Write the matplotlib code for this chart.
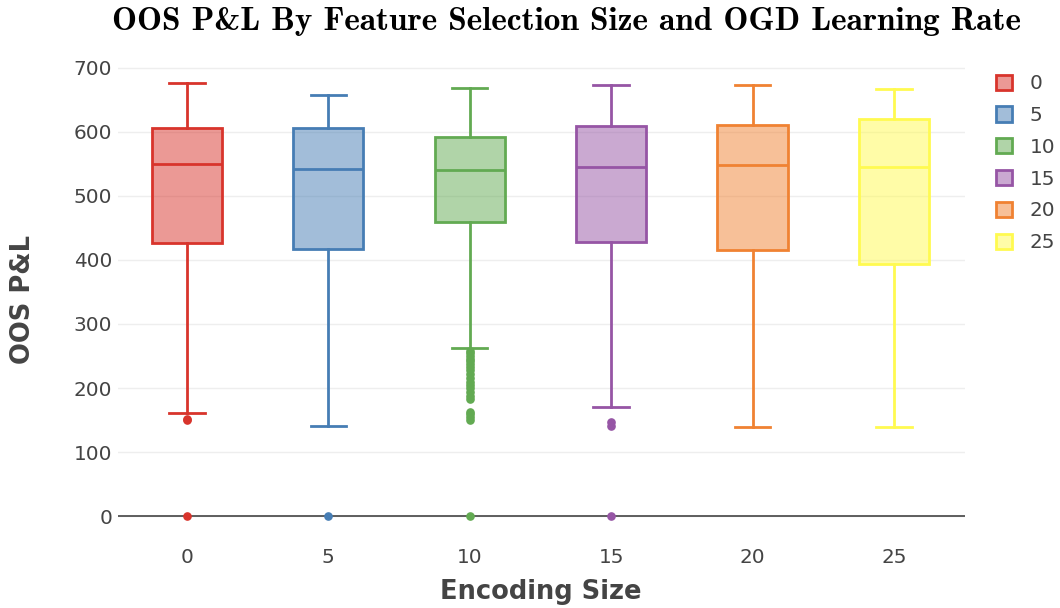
import matplotlib
matplotlib.use("Agg")
import matplotlib.pyplot as plt
from matplotlib.patches import Patch

# Encoding sizes and box statistics of out-of-sample P&L
sizes = [0, 5, 10, 15, 20, 25]
q1 = [427, 417, 460, 428, 416, 394]
median = [550, 542, 540, 546, 548, 546]
q3 = [606, 606, 592, 609, 611, 621]
whisker_low = [161, 141, 263, 170, 139, 139]
whisker_high = [676, 658, 668, 673, 673, 667]
outliers = [
    [152, 150, 0],
    [0],
    [258, 254, 250, 246, 242, 238, 233, 228, 222, 216, 210, 205, 200, 194, 188, 183,
     163, 159, 155, 150, 0],
    [147, 141, 0],
    [],
    [],
]
colors = ["#d8342c", "#467db4", "#62aa52", "#9655a5", "#f08232", "#fffa50"]

plt.rcParams["font.family"] = ["DejaVu Sans"]
fig = plt.figure(figsize=(10.6, 6.08), dpi=100)
ax = fig.add_axes([0.111, 0.1355, 0.799, 0.7685])

text_color = "#444444"
for i, s in enumerate(sizes):
    stats = [dict(med=median[i], q1=q1[i], q3=q3[i], whislo=whisker_low[i],
                  whishi=whisker_high[i], fliers=outliers[i])]
    c = colors[i]
    ax.bxp(stats, positions=[s], widths=2.48, patch_artist=True, showfliers=True,
           boxprops=dict(facecolor=matplotlib.colors.to_rgba(c, 0.5), edgecolor=c, linewidth=2),
           medianprops=dict(color=c, linewidth=2),
           whiskerprops=dict(color=c, linewidth=2),
           capprops=dict(color=c, linewidth=2),
           capwidths=1.25,
           flierprops=dict(marker="o", markersize=5.2, markerfacecolor=c,
                           markeredgecolor=c, linestyle="none"),
           zorder=3)

ax.set_xlim(-2.45, 27.5)
ax.set_ylim(-15, 715)
ax.set_xticks(sizes)
ax.set_xticklabels([str(s) for s in sizes])
ax.set_yticks(range(0, 701, 100))
ax.tick_params(axis="both", length=0, labelsize=14.4, labelcolor=text_color)
ax.tick_params(axis="x", pad=16)
ax.tick_params(axis="y", pad=4)
ax.grid(axis="y", color="#eeeeee", linewidth=1)
ax.set_axisbelow(True)
ax.axhline(0, color=text_color, linewidth=1.2, zorder=2)
for sp in ax.spines.values():
    sp.set_visible(False)

ax.set_xlabel("Encoding Size", fontsize=18.5, fontweight="bold", color=text_color, labelpad=9)
ax.set_ylabel("OOS P&L", fontsize=18.5, fontweight="bold", color=text_color)
ax.yaxis.set_label_coords(-0.097, 0.485)

fig.text(0.534, 0.965, "OOS P&L By Feature Selection Size and OGD Learning Rate",
         ha="center", va="center", fontsize=24, family=["cmb10", "DejaVu Serif"])

handles = [Patch(facecolor=matplotlib.colors.to_rgba(c, 0.5), edgecolor=c, linewidth=2)
           for c in colors]
leg = fig.legend(handles, [str(s) for s in sizes], loc="upper left",
                 bbox_to_anchor=(0.940, 0.878), frameon=False, fontsize=14.4,
                 handlelength=0.8, handleheight=0.8, labelspacing=0.64, handletextpad=0.85,
                 borderaxespad=0, borderpad=0)
for t in leg.get_texts():
    t.set_color(text_color)

fig.savefig("out.png", dpi=100)
